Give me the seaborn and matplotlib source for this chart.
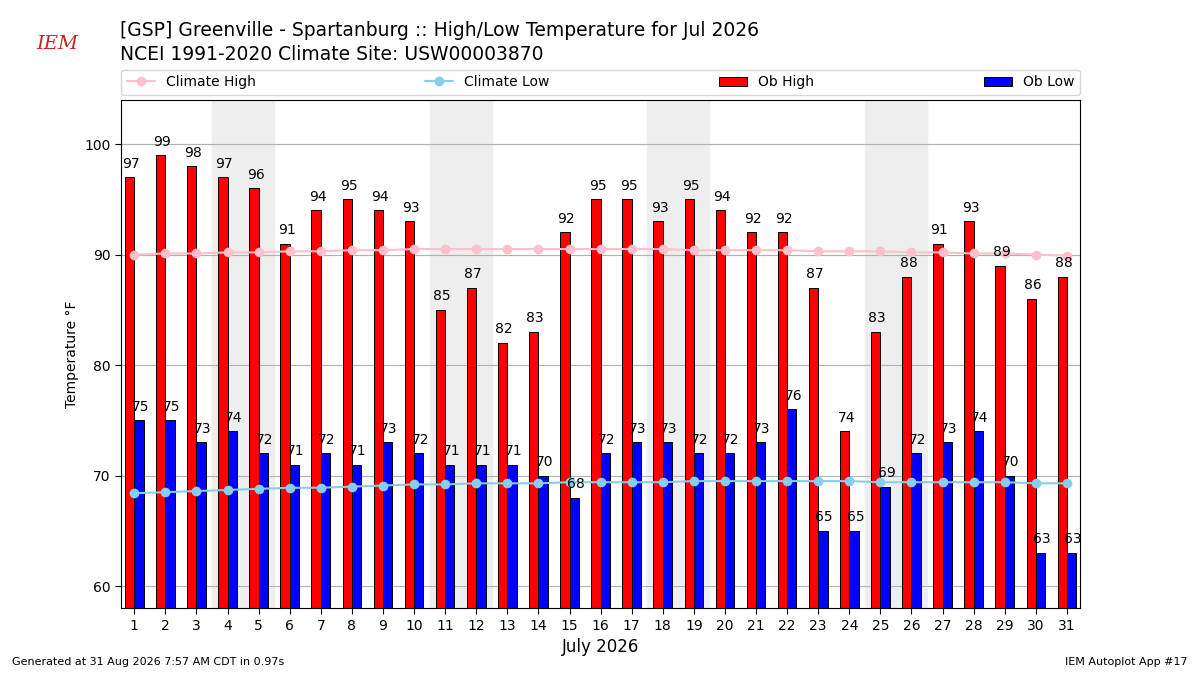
import numpy as np
import pandas as pd
import matplotlib
matplotlib.use("Agg")
import matplotlib.pyplot as plt
import seaborn as sns

days = list(range(1, 32))
ob_high = [97, 99, 98, 97, 96, 91, 94, 95, 94, 93, 85, 87, 82, 83, 92, 95, 95, 93, 95, 94,
           92, 92, 87, 74, 83, 88, 91, 93, 89, 86, 88]
ob_low = [75, 75, 73, 74, 72, 71, 72, 71, 73, 72, 71, 71, 71, 70, 68, 72, 73, 73, 72, 72,
          73, 76, 65, 65, 69, 72, 73, 74, 70, 63, 63]
clim_high = [90.0, 90.1, 90.1, 90.2, 90.2, 90.3, 90.3, 90.4, 90.4, 90.5, 90.5, 90.5, 90.5,
             90.5, 90.5, 90.5, 90.5, 90.5, 90.4, 90.4, 90.4, 90.4, 90.3, 90.3, 90.3, 90.2,
             90.2, 90.1, 90.1, 90.0, 89.9]
clim_low = [68.4, 68.5, 68.6, 68.7, 68.8, 68.9, 68.9, 69.0, 69.1, 69.2, 69.2, 69.3, 69.3,
            69.3, 69.4, 69.4, 69.4, 69.4, 69.5, 69.5, 69.5, 69.5, 69.5, 69.5, 69.4, 69.4,
            69.4, 69.4, 69.4, 69.3, 69.3]
weekends = [4, 11, 18, 25]

df = pd.DataFrame({"day": days, "hi": ob_high, "lo": ob_low,
                   "chi": clim_high, "clo": clim_low})

sns.set_style("white", rc={"text.color": "black", "axes.labelcolor": "black",
                           "xtick.color": "black", "ytick.color": "black"})
plt.rcParams['font.family'] = ['DejaVu Sans']
fig = plt.figure(figsize=(12, 6.75), dpi=100)
ax = fig.add_axes([0.101, 0.099, 0.799, 0.753])

for w in weekends:
    ax.axvspan(w - 0.5, w + 1.5, color="#eeeeee", zorder=0)

x = np.array(days)
w = 0.3
ax.bar(x - w / 2, df["hi"], width=w, color="red", edgecolor="black", linewidth=0.7,
       label="Ob High", zorder=2)
ax.bar(x + w / 2, df["lo"], width=w, color="blue", edgecolor="black", linewidth=0.7,
       label="Ob Low", zorder=2)
for xi, h, l in zip(x, ob_high, ob_low):
    ax.text(xi - w / 3, h + 0.6, str(h), ha="center", va="bottom", fontsize=10, zorder=4)
    ax.text(xi + w * 0.65, l + 0.6, str(l), ha="center", va="bottom", fontsize=10, zorder=4)

sns.lineplot(data=df, x="day", y="chi", ax=ax, color="pink", marker="o", markersize=7,
             markeredgewidth=0, linewidth=1.5, label="Climate High", zorder=3)
sns.lineplot(data=df, x="day", y="clo", ax=ax, color="skyblue", marker="o", markersize=7,
             markeredgewidth=0, linewidth=1.5, label="Climate Low", zorder=3)

ax.set_xlim(0.58, 31.42)
ax.set_ylim(58, 104)
ax.set_xticks(days)
ax.set_yticks([60, 70, 80, 90, 100])
ax.yaxis.grid(True, color="#b0b0b0", linewidth=0.8)
ax.set_axisbelow(True)
ax.tick_params(axis="both", which="both", length=4, color="black", direction="out",
               bottom=True, left=True, labelsize=10)
for s in ax.spines.values():
    s.set_color("black")
    s.set_linewidth(0.8)
ax.set_xlabel("July 2026", fontsize=12)
ax.set_ylabel("Temperature °F", fontsize=10)

handles, labels = ax.get_legend_handles_labels()
order = [labels.index(n) for n in ["Climate High", "Climate Low", "Ob High", "Ob Low"]]
ax.legend([handles[i] for i in order], [labels[i] for i in order], ncol=4, mode="expand",
          loc="lower left", bbox_to_anchor=(0, 1.01, 1, 0.05), fontsize=10, frameon=True,
          borderaxespad=0)

fig.text(0.1, 0.955, "[GSP] Greenville - Spartanburg :: High/Low Temperature for Jul 2026",
         fontsize=13.5, va="center")
fig.text(0.1, 0.92, "NCEI 1991-2020 Climate Site: USW00003870", fontsize=13.5, va="center")
fig.text(0.03, 0.935, "IEM", color="#d02020", fontsize=14, style="italic", fontfamily="serif",
         va="center")
fig.text(0.01, 0.015, "Generated at 31 Aug 2026 7:57 AM CDT in 0.97s", fontsize=8)
fig.text(0.99, 0.015, "IEM Autoplot App #17", fontsize=8, ha="right")

fig.savefig("out.png", dpi=100)
